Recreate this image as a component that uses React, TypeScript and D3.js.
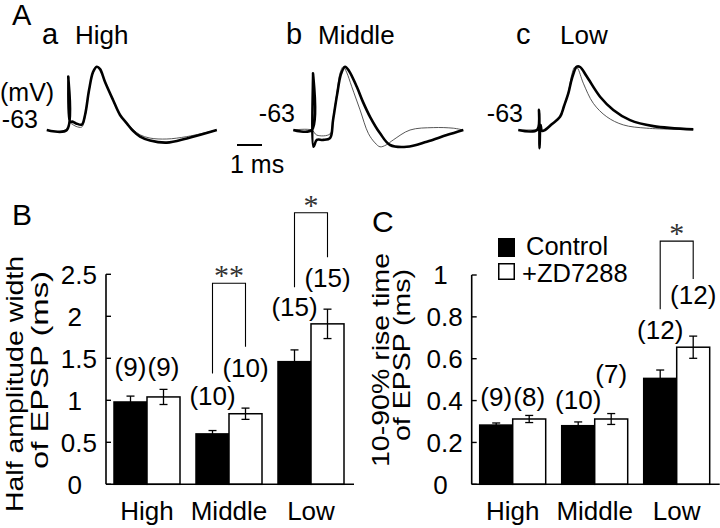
import React from "react";
import * as d3 from "d3";

// ---------- Data ----------
const categories = ["High", "Middle", "Low"];
const seriesNames = ["Control", "+ZD7288"];

// Panel B: half amplitude width of EPSP (ms)
const widthControl = [0.98, 0.6, 1.46];
const widthControlErr = [0.07, 0.04, 0.14];
const widthZD = [1.04, 0.84, 1.91];
const widthZDErr = [0.09, 0.067, 0.175];
const widthNControl = ["(9)", "(10)", "(15)"];
const widthNZD = ["(9)", "(10)", "(15)"];
// vertical level (data units) of the n labels
const widthNLevelControl = [1.29, 0.944, 2.0];
const widthNLevelZD = [1.29, 1.277, 2.35];
const widthTicks = [0, 0.5, 1, 1.5, 2, 2.5];
const widthTickLabels = ["0", "0.5", "1", "1.5", "2", "2.5"];
// significance brackets: [category, top, left leg bottom, right leg bottom, label]
const widthSig: [string, number, number, number, string][] = [
  ["Middle", 2.393, 1.32, 1.638, "**"],
  ["Low", 3.233, 2.345, 2.702, "*"],
];

// Panel C: 10-90% rise time of EPSP (ms)
const riseControl = [0.283, 0.28, 0.506];
const riseControlErr = [0.01, 0.018, 0.04];
const riseZD = [0.312, 0.312, 0.655];
const riseZDErr = [0.017, 0.026, 0.053];
const riseNControl = ["(9)", "(10)", "(12)"];
const riseNZD = ["(8)", "(7)", "(12)"];
const riseNLevelControl = [0.374, 0.36, 0.694];
const riseNLevelZD = [0.374, 0.484, 0.861];
const riseTicks = [0, 0.2, 0.4, 0.6, 0.8, 1];
const riseTickLabels = ["0", "0.2", "0.4", "0.6", "0.8", "1"];
const riseSig: [string, number, number, number, string][] = [
  ["Low", 1.162, 0.836, 0.981, "*"],
];

// Panel A traces: [time (ms) from stimulus, membrane potential (mV)]
const traceHighControl: [number, number][] = [
  [-0.86, -63], [-0.06, -63], [0, -45.2], [0.07, -60.3], [0.15, -60.2], [0.31, -60.8],
  [0.54, -61.2], [0.67, -58], [0.83, -49.7], [0.99, -43.7], [1.14, -41.9], [1.27, -42.7],
  [1.47, -47], [1.79, -53], [2.07, -58], [2.34, -60.8], [2.59, -63.3], [2.87, -65.2],
  [3.27, -66.5], [3.94, -67.2], [4.74, -65.8], [5.94, -63],
];
const traceHighZD: [number, number][] = [
  [-0.86, -63], [-0.06, -63], [0, -45.2], [0.07, -60.5], [0.15, -61], [0.31, -61.8],
  [0.54, -62], [0.67, -58.5], [0.83, -50], [0.99, -43.9], [1.14, -42], [1.27, -42.8],
  [1.47, -47], [1.79, -53], [2.07, -58], [2.34, -60.6], [2.59, -62.8], [2.87, -64.6],
  [3.27, -65.7], [3.94, -66], [4.74, -65.2], [5.94, -63],
];
const traceMiddleControl: [number, number][] = [
  [-0.8, -63], [-0.06, -63], [-0.01, -44.1], [0.01, -68.6], [0.14, -66.3], [0.39, -66.3],
  [0.67, -65.7], [0.79, -59.7], [0.95, -51.3], [1.11, -44.3], [1.27, -41.9], [1.43, -43.3],
  [1.74, -48.6], [1.99, -53.7], [2.27, -58.6], [2.67, -64.1], [3.07, -68], [3.74, -68.6],
  [4.54, -66.9], [5.34, -64.7], [6.0, -63],
];
const traceMiddleZD: [number, number][] = [
  [-0.8, -63], [-0.06, -63], [0.14, -64.7], [0.67, -64.3], [0.79, -59], [0.95, -50.3],
  [1.07, -44], [1.2, -41.9], [1.33, -43.7], [1.54, -48.6], [1.87, -56.3], [2.2, -64.1],
  [2.47, -67.3], [2.67, -68.6], [2.91, -68], [3.2, -66.3], [3.87, -63], [4.8, -62.2],
  [5.6, -62.4], [6.0, -63],
];
const traceLowControl: [number, number][] = [
  [-0.84, -63], [-0.09, -63], [-0.01, -56.3], [0.01, -69.1], [0.05, -61.3], [0.11, -63.3],
  [0.23, -63], [0.51, -61], [0.83, -58.6], [0.99, -55], [1.16, -50.8], [1.31, -45.7],
  [1.5, -41.9], [1.63, -42], [1.9, -45.2], [2.43, -51.9], [2.96, -56.3], [3.63, -59.7],
  [4.56, -61.7], [6.16, -62.8],
];
const traceLowZD: [number, number][] = [
  [-0.84, -63], [-0.09, -63], [0.23, -63], [0.51, -61], [0.83, -58.6], [0.99, -55.2],
  [1.16, -50.5], [1.3, -44.5], [1.42, -42], [1.52, -42.3], [1.76, -47.4], [2.16, -54.1],
  [2.7, -58.6], [3.36, -61.3], [4.3, -62.4], [6.16, -62.8],
];

const FONT = "'Liberation Sans', Arial, Helvetica, sans-serif";
const SERIF = "'Liberation Serif', 'Times New Roman', serif";

type BarPanelProps = {
  x0: number;
  x1: number;
  yMax: number;
  yTop: number;
  ctrl: number[];
  ctrlErr: number[];
  zd: number[];
  zdErr: number[];
  nCtrl: string[];
  nZD: string[];
  nLevelCtrl: number[];
  nLevelZD: number[];
  ticks: number[];
  tickLabels: string[];
  sig: [string, number, number, number, string][];
};

const BASE_Y = 484.3;

function BarPanel(p: BarPanelProps) {
  const x = d3.scaleBand<string>().domain(categories).range([p.x0, p.x1]).padding(0);
  const bw = x.bandwidth();
  const sub = d3
    .scaleBand<string>()
    .domain(seriesNames)
    .range([(bw - 66) / 2, (bw + 66) / 2])
    .padding(0);
  const y = d3.scaleLinear().domain([0, p.yMax]).range([BASE_Y, p.yTop]);
  const barW = sub.bandwidth();
  const cx = (cat: string, s: string) => (x(cat) as number) + (sub(s) as number) + barW / 2;

  const series = [
    { name: seriesNames[0], vals: p.ctrl, errs: p.ctrlErr, n: p.nCtrl, lvl: p.nLevelCtrl, fill: "#000" },
    { name: seriesNames[1], vals: p.zd, errs: p.zdErr, n: p.nZD, lvl: p.nLevelZD, fill: "#fff" },
  ];

  return (
    <g fontFamily={FONT}>
      {series.map((s) =>
        categories.map((c, i) => {
          const left = (x(c) as number) + (sub(s.name) as number);
          const mid = cx(c, s.name);
          return (
            <g key={s.name + c}>
              <rect
                x={left}
                y={y(s.vals[i])}
                width={barW}
                height={BASE_Y - y(s.vals[i])}
                fill={s.fill}
                stroke="#000"
                strokeWidth={1.5}
              />
              <line x1={mid} x2={mid} y1={y(s.vals[i] - s.errs[i])} y2={y(s.vals[i] + s.errs[i])} stroke="#000" strokeWidth={1.3} />
              <line x1={mid - 4} x2={mid + 4} y1={y(s.vals[i] + s.errs[i])} y2={y(s.vals[i] + s.errs[i])} stroke="#000" strokeWidth={1.3} />
              <line x1={mid - 4} x2={mid + 4} y1={y(s.vals[i] - s.errs[i])} y2={y(s.vals[i] - s.errs[i])} stroke="#000" strokeWidth={1.3} />
              <text x={mid} y={y(s.lvl[i])} fontSize={26} textAnchor="middle">
                {s.n[i]}
              </text>
            </g>
          );
        })
      )}
      {/* axes */}
      <line x1={p.x0} x2={p.x0} y1={y(0)} y2={y(p.yMax)} stroke="#000" strokeWidth={1.6} />
      <line x1={p.x0} x2={p.x1 + 2} y1={y(0)} y2={y(0)} stroke="#000" strokeWidth={1.6} />
      {p.ticks.map((t, i) => (
        <g key={"t" + i}>
          <line x1={p.x0} x2={p.x0 + 5} y1={y(t)} y2={y(t)} stroke="#000" strokeWidth={1.4} />
          <text
            x={p.x0 - (p.tickLabels[i].includes(".") ? 9 : 24)}
            y={y(t)}
            dy="0.36em"
            fontSize={26}
            textAnchor="end"
          >
            {p.tickLabels[i]}
          </text>
        </g>
      ))}
      {categories.map((c) => (
        <text key={"c" + c} x={(x(c) as number) + bw / 2} y={520} fontSize={26} textAnchor="middle">
          {c}
        </text>
      ))}
      {p.sig.map(([c, top, lb, rb, lab]) => {
        const xl = cx(c, seriesNames[0]);
        const xr = cx(c, seriesNames[1]);
        return (
          <g key={"s" + c}>
            <path
              d={`M${xl},${y(lb)}V${y(top)}H${xr}V${y(rb)}`}
              fill="none"
              stroke="#000"
              strokeWidth={1.1}
            />
            <text
              x={(xl + xr) / 2}
              y={y(top) + 2}
              fontSize={30}
              fontFamily={SERIF}
              textAnchor="middle"
              fill="#333"
            >
              {lab}
            </text>
          </g>
        );
      })}
    </g>
  );
}

function TracePanel({
  x0,
  thick,
  thin,
}: {
  x0: number;
  thick: [number, number][];
  thin: [number, number][];
}) {
  const xs = d3.scaleLinear().domain([0, 1]).range([x0, x0 + 25]);
  const ys = d3.scaleLinear().domain([-63, -42]).range([130, 67]);
  const line = d3
    .line<[number, number]>()
    .x((d) => xs(d[0]))
    .y((d) => ys(d[1]))
    .curve(d3.curveCatmullRom.alpha(0.5));
  return (
    <g>
      <path d={line(thin) || ""} fill="none" stroke="#444" strokeWidth={0.9} />
      <path d={line(thick) || ""} fill="none" stroke="#000" strokeWidth={2.6} strokeLinejoin="round" />
    </g>
  );
}

function RotLabel({ x, y, len, text }: { x: number; y: number; len: number; text: string }) {
  return (
    <g transform={`translate(${x},${y}) rotate(-90)`}>
      <text fontSize={24} textAnchor="middle" textLength={len} lengthAdjust="spacingAndGlyphs">
        {text}
      </text>
    </g>
  );
}

export default function App() {
  return (
    <svg
      width={720}
      height={528}
      viewBox="0 0 720 528"
      style={{ position: "absolute", left: 0, top: 0, background: "#fff" }}
    >
      <rect width={720} height={528} fill="#fff" />
      <g fontFamily={FONT} fill="#000">
        {/* Panel A headings */}
        <text x={12} y={25} fontSize={29}>A</text>
        <text x={42} y={44} fontSize={29}>a</text>
        <text x={75} y={44} fontSize={26}>High</text>
        <text x={286} y={44} fontSize={29}>b</text>
        <text x={318} y={44} fontSize={26}>Middle</text>
        <text x={516} y={44} fontSize={29}>c</text>
        <text x={560} y={44} fontSize={26}>Low</text>
        <text x={0} y={101} fontSize={25}>(mV)</text>
        <text x={38} y={128} fontSize={25} textAnchor="end">-63</text>
        <text x={295} y={122} fontSize={25} textAnchor="end">-63</text>
        <text x={523} y={122} fontSize={25} textAnchor="end">-63</text>
        <line x1={237} x2={262} y1={145} y2={145} stroke="#000" strokeWidth={2} />
        <text x={230} y={173} fontSize={25}>1 ms</text>
        {/* Panel labels */}
        <text x={12} y={225} fontSize={30}>B</text>
        <text x={372} y={232} fontSize={30}>C</text>
        {/* Y labels */}
        <RotLabel x={23} y={384} len={256} text="Half amplitude width" />
        <RotLabel x={48} y={370} len={198} text="of EPSP (ms)" />
        <RotLabel x={389} y={360} len={214} text="10-90% rise time" />
        <RotLabel x={410} y={355} len={172} text="of EPSP (ms)" />
        {/* Legend */}
        <rect x={498} y={238} width={17} height={19} fill="#000" />
        <rect x={498.75} y={263.75} width={15.5} height={15.5} fill="#fff" stroke="#000" strokeWidth={1.5} />
        <text x={526} y={255} fontSize={25.5}>{seriesNames[0]}</text>
        <text x={522} y={282} fontSize={25.5}>{seriesNames[1]}</text>
      </g>

      <TracePanel x0={68.3} thick={traceHighControl} thin={traceHighZD} />
      <TracePanel x0={313.3} thick={traceMiddleControl} thin={traceMiddleZD} />
      <TracePanel x0={539.3} thick={traceLowControl} thin={traceLowZD} />

      <BarPanel
        x0={106}
        x1={352}
        yMax={2.5}
        yTop={274.3}
        ctrl={widthControl}
        ctrlErr={widthControlErr}
        zd={widthZD}
        zdErr={widthZDErr}
        nCtrl={widthNControl}
        nZD={widthNZD}
        nLevelCtrl={widthNLevelControl}
        nLevelZD={widthNLevelZD}
        ticks={widthTicks}
        tickLabels={widthTickLabels}
        sig={widthSig}
      />
      <BarPanel
        x0={471.7}
        x1={717.7}
        yMax={1}
        yTop={275}
        ctrl={riseControl}
        ctrlErr={riseControlErr}
        zd={riseZD}
        zdErr={riseZDErr}
        nCtrl={riseNControl}
        nZD={riseNZD}
        nLevelCtrl={riseNLevelControl}
        nLevelZD={riseNLevelZD}
        ticks={riseTicks}
        tickLabels={riseTickLabels}
        sig={riseSig}
      />
    </svg>
  );
}
